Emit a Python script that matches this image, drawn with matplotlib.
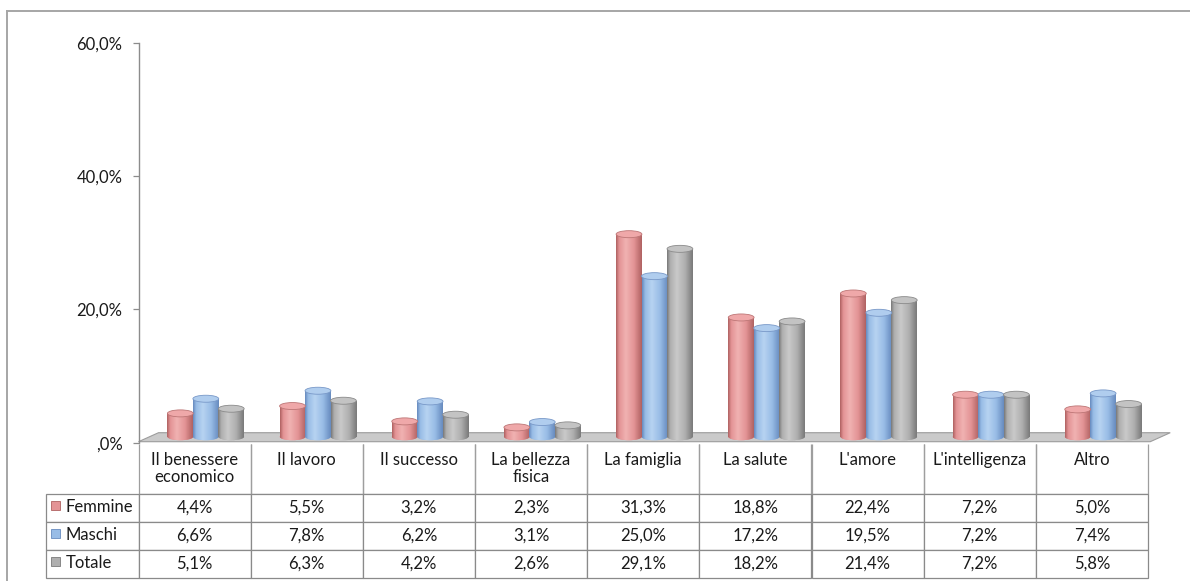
import numpy as np
import matplotlib.pyplot as plt
from matplotlib.colors import LinearSegmentedColormap
from matplotlib.patches import Ellipse, Polygon, Rectangle
from matplotlib.lines import Line2D

# values (percent)
categories = ["Il benessere\neconomico", "Il lavoro", "Il successo", "La bellezza\nfisica",
              "La famiglia", "La salute", "L'amore", "L'intelligenza", "Altro"]
series_names = ["Femmine", "Maschi", "Totale"]
femmine = [4.4, 5.5, 3.2, 2.3, 31.3, 18.8, 22.4, 7.2, 5.0]
maschi = [6.6, 7.8, 6.2, 3.1, 25.0, 17.2, 19.5, 7.2, 7.4]
totale = [5.1, 6.3, 4.2, 2.6, 29.1, 18.2, 21.4, 7.2, 5.8]
y_ticks = [0, 20, 40, 60]
y_tick_labels = [",0%", "20,0%", "40,0%", "60,0%"]

# cylinder colours: dark edge, body, highlight, cap, cap edge
STYLE = {
    "Femmine": ("#B06262", "#E39395", "#F0B2B2", "#EFA8A9", "#BD7676"),
    "Maschi": ("#678BBF", "#98BCE6", "#B7D3F1", "#B0CDEE", "#7898C8"),
    "Totale": ("#7A7A7A", "#AFAFAF", "#C9C9C9", "#C3C3C3", "#8A8A8A"),
}

plt.rcParams['font.family'] = ['Lato', 'DejaVu Sans']
FS = 12

W, H = 1190, 581
fig = plt.figure(figsize=(W / 100, H / 100), dpi=100)

# plot area in pixels
x_left, x_right = 138.5, 1148.0
y_zero, y_top = 442.7, 43.0
ax = fig.add_axes([x_left / W, (H - y_zero) / H, (x_right - x_left) / W, (y_zero - y_top) / H])
ax.set_xlim(0, len(categories))
ax.set_ylim(0, 60)

px_per_unit = (y_zero - y_top) / 60.0
cap_h = 7.0 / px_per_unit
base = 0.9
bar_w = 0.23
offsets = [0.373, 0.600, 0.827]

# floor of the 3D plot
depth_x = 20.0 / ((x_right - x_left) / len(categories))
floor = Polygon([(0, 0.15), (len(categories) + 0.02, 0.15),
                 (len(categories) + 0.02 + depth_x, 1.5), (depth_x, 1.5)],
                closed=True, facecolor="#CACACA", edgecolor="#9C9C9C", lw=0.8,
                clip_on=False, zorder=1)
ax.add_patch(floor)

grad = np.linspace(0, 1, 64).reshape(1, -1)
x = np.arange(len(categories))
for name, vals, off in zip(series_names, [femmine, maschi, totale], offsets):
    dark, body, light, cap, cap_edge = STYLE[name]
    cmap = LinearSegmentedColormap.from_list(
        name, [(0, dark), (0.12, body), (0.38, light), (0.7, body), (1, dark)])
    bars = ax.bar(x + off, np.array(vals) - base, bar_w, bottom=base,
                  color=body, linewidth=0, zorder=2)
    for b, v in zip(bars, vals):
        x0 = b.get_x()
        x1 = x0 + b.get_width()
        cx = x0 + b.get_width() / 2
        im = ax.imshow(grad, cmap=cmap, extent=(x0, x1, base, v), aspect='auto',
                       interpolation='bilinear', zorder=2.1)
        im.set_clip_path(b)
        bottom = Ellipse((cx, base), bar_w, cap_h, facecolor=body, lw=0, zorder=1.9)
        ax.add_patch(bottom)
        imb = ax.imshow(grad, cmap=cmap, extent=(x0, x1, base - cap_h, base + cap_h),
                        aspect='auto', interpolation='bilinear', zorder=1.95)
        imb.set_clip_path(bottom)
        ax.add_patch(Ellipse((cx, v), bar_w, cap_h, facecolor=cap, edgecolor=cap_edge,
                             lw=0.6, zorder=3))

ax.set_xlim(0, len(categories))
ax.set_ylim(0, 60)

# axes styling
for s in ["top", "right", "bottom"]:
    ax.spines[s].set_visible(False)
ax.spines["left"].set_color("#8C8C8C")
ax.spines["left"].set_linewidth(1.0)
ax.set_xticks([])
ax.set_yticks(y_ticks)
ax.set_yticklabels(y_tick_labels, fontsize=FS, color="#1A1A1A")
ax.tick_params(axis="y", length=4.5, width=0.9, color="#8C8C8C", pad=7)
ax.patch.set_alpha(0)

# data table under the plot
def fmt(v):
    return f"{v:.1f}%".replace(".", ",")

cell_text = [[fmt(v) for v in vals] for vals in (femmine, maschi, totale)]
col_labels = [c if "\n" in c else c + "\n" for c in categories]
axes_h = y_zero - y_top
axes_w = x_right - x_left
head_h = 50.0 / axes_h
row_h = 28.0 / axes_h
tab_top = -0.8 / axes_h
label_w = 92.5 / axes_w
tab = ax.table(cellText=cell_text, rowLabels=series_names, colLabels=col_labels,
               cellLoc="center", rowLoc="left", colLoc="center",
               bbox=[0, tab_top - head_h - 3 * row_h, 1, head_h + 3 * row_h])
tab._autoColumns = []  # keep the row-label column at a fixed width
tab.auto_set_font_size(False)
tab.set_fontsize(FS)
for (r, c), cell in tab.get_celld().items():
    cell.set_linewidth(0.9)
    cell.get_text().set_color("#1A1A1A")
    cell.set_width(label_w if c == -1 else 1.0 / len(categories))
    if r == 0:
        cell.set_height(head_h)
        cell.visible_edges = "BLR"
        cell.set_edgecolor("#9E9E9E")
        cell.get_text().set_linespacing(1.15)
    else:
        cell.set_height(row_h)
        cell.set_edgecolor("#8A8A8A")
    if c == -1:
        cell.PAD = 0.215

# legend keys inside the row-label cells
for i, name in enumerate(series_names):
    dark, body, light, cap, cap_edge = STYLE[name]
    row_top_px = y_zero + 0.8 + 50.0 + i * 28.0
    y0 = -(row_top_px + 16.0 - y_zero) / axes_h
    ax.add_patch(Rectangle(((50.5 - x_left) / axes_w, y0), 9.0 / axes_w, 8.5 / axes_h,
                           transform=ax.transAxes, facecolor=body, edgecolor=dark,
                           lw=0.6, clip_on=False, zorder=5))

# outer chart border (top and left edges are visible)
fig.add_artist(Line2D([7 / W, 1.0], [1 - 11 / H, 1 - 11 / H], color="#A6A6A6", lw=1.4))
fig.add_artist(Line2D([7 / W, 7 / W], [0, 1 - 11 / H], color="#A6A6A6", lw=1.4))

fig.savefig("out.png", dpi=100)
